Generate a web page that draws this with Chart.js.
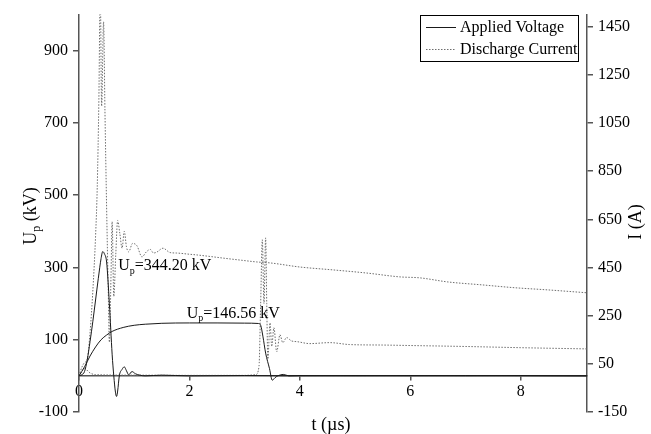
<!DOCTYPE html>
<html>
<head>
<meta charset="utf-8">
<script src="https://cdn.jsdelivr.net/npm/chart.js@4"></script>
<style>
  html, body { margin: 0; padding: 0; background: #ffffff; }
  #wrap { position: relative; width: 651px; height: 434px; }
</style>
</head>
<body>
<div id="wrap"><canvas id="c" width="651" height="434"></canvas></div>
<script>
// ---- Data ----
// Test 1: chopped impulse, Up = 344.20 kV
const timeV1 = [0, 0.05, 0.1, 0.15, 0.2, 0.25, 0.3, 0.35, 0.4, 0.43, 0.46, 0.5, 0.55, 0.6, 0.63, 0.66, 0.68, 0.7, 0.73, 0.78, 0.82, 0.86, 0.9, 0.96, 1.02, 1.1, 1.2, 1.5, 2, 3, 4, 5, 6, 7, 8, 9.2];
const voltage1 = [0, 3, 12, 45, 95, 150, 210, 270, 325, 344, 338, 315, 200, 60, 0, -45, -57, -42, 0, 18, 25, 14, 3, 12, 6, 2, 0, 2, 0, 1, 0, 1, 0, 1, 0, 0];
const timeI1 = [0, 0.05, 0.1, 0.15, 0.2, 0.25, 0.3, 0.33, 0.36, 0.385, 0.41, 0.445, 0.47, 0.5, 0.53, 0.55, 0.58, 0.6, 0.63, 0.665, 0.7, 0.74, 0.78, 0.82, 0.86, 0.9, 0.97, 1.05, 1.14, 1.22, 1.29, 1.35, 1.41, 1.52, 1.65, 1.77, 2.0, 2.14, 2.4, 2.61, 2.91, 3.22, 3.46, 4.0, 4.6, 5.21, 5.81, 6.17, 6.68, 7.29, 7.89, 8.49, 9.2];
const current1 = [0, 35, 55, 70, 180, 350, 580, 780, 1150, 1600, 1120, 1470, 1100, 700, 350, 140, 420, 640, 330, 500, 645, 590, 530, 600, 535, 515, 550, 540, 494, 515, 525, 510, 514, 530, 512, 510, 505, 502, 495, 489, 481, 473, 469, 452, 440, 427, 411, 407, 390, 378, 366, 357, 345];
// Test 2: chopped on the tail, Up = 146.56 kV
const timeV2 = [0, 0.1, 0.2, 0.3, 0.4, 0.5, 0.6, 0.8, 1.0, 1.2, 1.5, 2.0, 2.5, 3.0, 3.25, 3.29, 3.33, 3.38, 3.45, 3.5, 3.55, 3.6, 3.7, 3.8, 4, 5, 6, 7, 8, 9.2];
const voltage2 = [0, 25, 55, 80, 100, 113, 123, 134, 140, 143, 145.5, 146.5, 146.5, 146, 145, 140, 110, 63, 20, -12, -5, 0, 4, 0, 1, 0, 1, 0, 1, 0];
const timeI2 = [0, 0.1, 0.2, 0.3, 1, 2, 3, 3.2, 3.26, 3.29, 3.32, 3.35, 3.38, 3.4, 3.42, 3.46, 3.49, 3.53, 3.58, 3.64, 3.69, 3.76, 3.85, 3.95, 4.18, 4.54, 4.9, 5.5, 6, 7, 8, 9.2];
const current2 = [0, 30, 12, 5, 3, 2, 2, 5, 40, 300, 565, 300, 573, 300, 70, 220, 122, 200, 100, 171, 138, 159, 145, 142, 134, 138, 130, 128, 126, 122, 117, 112];
// Tick labels
const xTicks = [0, 2, 4, 6, 8];
const voltageTicks = [-100, 100, 300, 500, 700, 900];
const currentTicks = [-150, 50, 250, 450, 650, 850, 1050, 1250, 1450];
const seriesNames = ['Applied Voltage', 'Discharge Current'];
const peakLabels = ['344.20 kV', '146.56 kV'];

const pts = (xs, ys) => xs.map((x, i) => ({ x: x, y: ys[i] }));
const SERIF = '"Liberation Serif", "Times New Roman", serif';
const AXIS = '#555555';
const VCOL = '#1a1a1a';
const ICOL = '#6e6e6e';
const plain = (v) => String(v);

const solid = { borderColor: VCOL, borderWidth: 1, pointRadius: 0, cubicInterpolationMode: 'monotone', yAxisID: 'y', fill: false };
const dotted = { borderColor: ICOL, borderWidth: 1, borderDash: [1.5, 1.5], pointRadius: 0, cubicInterpolationMode: 'monotone', yAxisID: 'y1', fill: false };

function drawSubLabel(ctx, x, y, main, sub, rest, size) {
  ctx.font = size + 'px ' + SERIF;
  ctx.fillText(main, x, y);
  let w = ctx.measureText(main).width;
  ctx.font = Math.round(size * 0.65) + 'px ' + SERIF;
  ctx.fillText(sub, x + w, y + size * 0.22);
  w += ctx.measureText(sub).width;
  ctx.font = size + 'px ' + SERIF;
  ctx.fillText(rest, x + w, y);
  return w + ctx.measureText(rest).width;
}
function subLabelWidth(ctx, main, sub, rest, size) {
  ctx.font = size + 'px ' + SERIF;
  let w = ctx.measureText(main).width + ctx.measureText(rest).width;
  ctx.font = Math.round(size * 0.65) + 'px ' + SERIF;
  return w + ctx.measureText(sub).width;
}

const decor = {
  id: 'decor',
  afterDraw(chart) {
    const ctx = chart.ctx;
    const xs = chart.scales.x, ys = chart.scales.y;
    ctx.save();
    ctx.fillStyle = '#000';
    ctx.textBaseline = 'alphabetic';
    ctx.textAlign = 'left';
    // peak annotations
    drawSubLabel(ctx, xs.getPixelForValue(0.71), ys.getPixelForValue(293), 'U', 'p', '=' + peakLabels[0], 16);
    drawSubLabel(ctx, xs.getPixelForValue(1.95), ys.getPixelForValue(161), 'U', 'p', '=' + peakLabels[1], 16);
    // x title
    ctx.font = '18px ' + SERIF;
    ctx.textAlign = 'center';
    ctx.fillText('t (\u00b5s)', 331, 430);
    // left title (rotated)
    ctx.save();
    ctx.translate(36, 216);
    ctx.rotate(-Math.PI / 2);
    ctx.textAlign = 'left';
    const lw = subLabelWidth(ctx, 'U', 'p', ' (kV)', 18);
    drawSubLabel(ctx, -lw / 2, 0, 'U', 'p', ' (kV)', 18);
    ctx.restore();
    // right title (rotated)
    ctx.save();
    ctx.translate(641, 222);
    ctx.rotate(-Math.PI / 2);
    ctx.font = '18px ' + SERIF;
    ctx.textAlign = 'center';
    ctx.fillText('I (A)', 0, 0);
    ctx.restore();
    // legend
    const bx = 420.5, by = 15.5, bw = 158, bh = 46;
    ctx.fillStyle = '#fff';
    ctx.fillRect(bx, by, bw, bh);
    ctx.strokeStyle = '#000';
    ctx.lineWidth = 1;
    ctx.setLineDash([]);
    ctx.strokeRect(bx, by, bw, bh);
    ctx.strokeStyle = VCOL;
    ctx.beginPath(); ctx.moveTo(426, 27.5); ctx.lineTo(456, 27.5); ctx.stroke();
    ctx.strokeStyle = ICOL;
    ctx.setLineDash([1.5, 1.5]);
    ctx.beginPath(); ctx.moveTo(426, 49.5); ctx.lineTo(456, 49.5); ctx.stroke();
    ctx.setLineDash([]);
    ctx.fillStyle = '#000';
    ctx.font = '16px ' + SERIF;
    ctx.textAlign = 'left';
    ctx.textBaseline = 'middle';
    ctx.fillText(seriesNames[0], 460, 28);
    ctx.fillText(seriesNames[1], 460, 50);
    ctx.restore();
  }
};

new Chart(document.getElementById('c'), {
  type: 'line',
  data: {
    datasets: [
      Object.assign({ label: seriesNames[0], data: pts(timeV1, voltage1) }, solid),
      Object.assign({ label: seriesNames[0] + ' 2', data: pts(timeV2, voltage2) }, solid),
      Object.assign({ label: seriesNames[1], data: pts(timeI1, current1) }, dotted),
      Object.assign({ label: seriesNames[1] + ' 2', data: pts(timeI2, current2) }, dotted)
    ]
  },
  options: {
    responsive: false,
    animation: false,
    layout: { padding: { top: 13, bottom: 22, left: 0, right: 0 } },
    plugins: { legend: { display: false }, tooltip: { enabled: false } },
    scales: {
      x: {
        type: 'linear',
        min: 0, max: 9.2,
        position: { y: 0 },
        afterBuildTicks: (s) => { s.ticks = xTicks.map(v => ({ value: v })); },
        grid: { drawOnChartArea: false, drawTicks: true, tickLength: 4, color: AXIS, lineWidth: 1.5 },
        border: { display: true, color: AXIS, width: 1.5 },
        ticks: { color: '#000', font: { family: SERIF, size: 16 }, padding: 2, maxRotation: 0, callback: plain }
      },
      y: {
        type: 'linear',
        position: 'left',
        min: -100, max: 1000,
        afterBuildTicks: (s) => { s.ticks = voltageTicks.map(v => ({ value: v })); },
        afterFit: (s) => { s.width = 79; },
        grid: { drawOnChartArea: false, drawTicks: true, tickLength: 6, color: AXIS, lineWidth: 1.5 },
        border: { display: true, color: AXIS, width: 1.5 },
        ticks: { color: '#000', font: { family: SERIF, size: 16 }, padding: 5, callback: plain }
      },
      y1: {
        type: 'linear',
        position: 'right',
        min: -150, max: 1500,
        afterBuildTicks: (s) => { s.ticks = currentTicks.map(v => ({ value: v })); },
        afterFit: (s) => { s.width = 64; },
        grid: { drawOnChartArea: false, drawTicks: true, tickLength: 6, color: AXIS, lineWidth: 1.5 },
        border: { display: true, color: AXIS, width: 1.5 },
        ticks: { color: '#000', font: { family: SERIF, size: 16 }, padding: 5, callback: plain }
      }
    }
  },
  plugins: [decor]
});
</script>
</body>
</html>
